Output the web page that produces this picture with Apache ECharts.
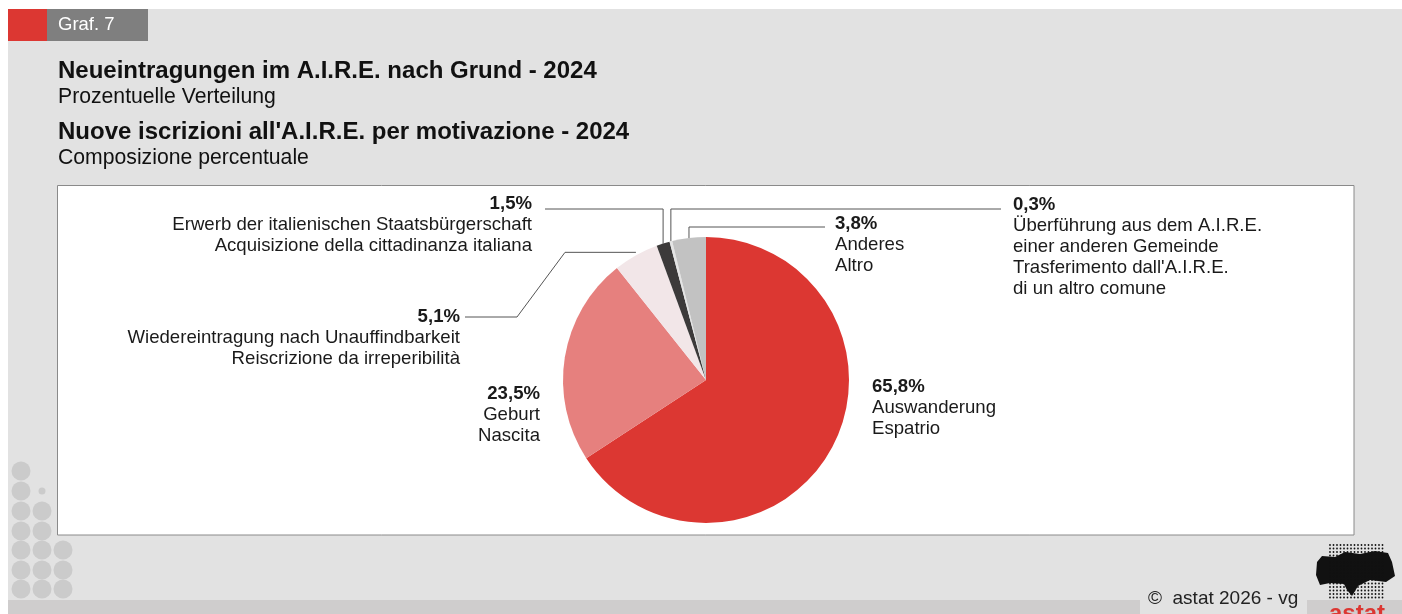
<!DOCTYPE html>
<html>
<head>
<meta charset="utf-8">
<script src="https://cdn.jsdelivr.net/npm/echarts@6/dist/echarts.min.js"></script>
<style>
  html, body { margin: 0; padding: 0; background: #fff; }
  #chart { width: 1402px; height: 614px; }
</style>
</head>
<body>
<div id="chart"></div>
<script>
// values (percent)
const categoriesDe = [
  'Auswanderung',
  'Geburt',
  'Wiedereintragung nach Unauffindbarkeit',
  'Erwerb der italienischen Staatsbürgerschaft',
  'Überführung aus dem A.I.R.E.\neiner anderen Gemeinde',
  'Anderes'
];
const categoriesIt = [
  'Espatrio',
  'Nascita',
  'Reiscrizione da irreperibilità',
  'Acquisizione della cittadinanza italiana',
  "Trasferimento dall'A.I.R.E.\ndi un altro comune",
  'Altro'
];
const shares = [65.8, 23.5, 5.1, 1.5, 0.3, 3.8];

const sliceColors = ['#dc3732', '#e6807e', '#f2e6e8', '#3c3a3a', '#e4e4e4', '#c2c2c2'];
const FONT = "'Liberation Sans', Arial, Helvetica, sans-serif";

// where each label sits and how its leader line runs
const labelPlacement = [
  { x: 872, y: 376, align: 'left' },
  { x: 540, y: 383, align: 'right' },
  { x: 460, y: 306, align: 'right', bendX: [565, 517], lineY: 317, lineEnd: 465 },
  { x: 532, y: 193, align: 'right', lineY: 209, lineEnd: 545 },
  { x: 1013, y: 194, align: 'left', lineY: 209, lineEnd: 1001 },
  { x: 835, y: 213, align: 'left', lineY: 227, lineEnd: 825 }
];

function fmtPct(v) {
  return v.toFixed(1).replace('.', ',') + '%';
}

const chart = echarts.init(document.getElementById('chart'));

// decoration: dots bottom left
const dotCols = [21, 42, 63];
const dotRows = [471, 491, 511, 531, 550, 570, 589];
const dotGraphics = [];
dotRows.forEach(function (y, r) {
  dotCols.forEach(function (x, c) {
    let rad = 0;
    if (c === 0) rad = 9.5;
    else if (c === 1) rad = r === 0 ? 0 : (r === 1 ? 3.5 : 9.5);
    else rad = r >= 4 ? 9.5 : 0;
    if (rad > 0) {
      dotGraphics.push({ type: 'circle', shape: { cx: x, cy: y, r: rad }, style: { fill: '#cbcbcb' } });
    }
  });
});

// logo dots
const logoDots = [];
for (let y = 545; y <= 598; y += 3.5) {
  for (let x = 1330; x <= 1384; x += 3.5) {
    logoDots.push({ type: 'circle', shape: { cx: x, cy: y, r: 0.9 }, style: { fill: '#111' } });
  }
}

const option = {
  animation: false,
  graphic: [
    { type: 'rect', z: -10, shape: { x: 8, y: 9, width: 1394, height: 605 }, style: { fill: '#e2e2e2' } },
    { type: 'rect', z: -9, shape: { x: 8, y: 600, width: 1394, height: 14 }, style: { fill: '#cfcdcd' } },
    { type: 'rect', z: -8, shape: { x: 1140, y: 590, width: 167, height: 24 }, style: { fill: '#e2e2e2' } },
    { type: 'rect', shape: { x: 8, y: 9, width: 39, height: 32 }, style: { fill: '#dc3732' } },
    { type: 'rect', shape: { x: 47, y: 9, width: 101, height: 32 }, style: { fill: '#7f7f7f' } },
    { type: 'text', x: 58, y: 25, style: { text: 'Graf. 7', fill: '#fff', font: '18.5px ' + FONT, verticalAlign: 'middle' } },
    { type: 'text', x: 58, y: 71, style: { text: 'Neueintragungen im A.I.R.E. nach Grund - 2024', fill: '#111', font: 'bold 24px ' + FONT, verticalAlign: 'middle' } },
    { type: 'text', x: 58, y: 97, style: { text: 'Prozentuelle Verteilung', fill: '#111', font: '21.2px ' + FONT, verticalAlign: 'middle' } },
    { type: 'text', x: 58, y: 132, style: { text: "Nuove iscrizioni all'A.I.R.E. per motivazione - 2024", fill: '#111', font: 'bold 24px ' + FONT, verticalAlign: 'middle' } },
    { type: 'text', x: 58, y: 158, style: { text: 'Composizione percentuale', fill: '#111', font: '21.2px ' + FONT, verticalAlign: 'middle' } },
    { type: 'rect', z: -5, shape: { x: 57.5, y: 185.5, width: 1296.5, height: 349.5 }, style: { fill: '#fff', stroke: '#8a8a8a', lineWidth: 1 } },
    { type: 'text', x: 1148, y: 599, style: { text: '©  astat 2026 - vg', fill: '#222', font: '19px ' + FONT, verticalAlign: 'middle' } },
    {
      type: 'polygon',
      shape: {
        points: [[1317, 562], [1322, 556], [1335, 557], [1345, 552], [1360, 554], [1375, 551], [1388, 553], [1392, 562],
          [1395, 576], [1386, 582], [1370, 580], [1358, 586], [1352, 596], [1347, 590], [1344, 584], [1330, 583], [1320, 585], [1316, 575]]
      },
      style: { fill: '#111' }
    },
    { type: 'text', x: 1357, y: 614, style: { text: 'astat', fill: '#dc3732', font: 'bold 24px ' + FONT, align: 'center', verticalAlign: 'middle' } }
  ].concat(dotGraphics, logoDots),
  series: [
    {
      type: 'pie',
      center: [706, 380],
      radius: 143,
      startAngle: 90,
      clockwise: true,
      avoidLabelOverlap: false,
      itemStyle: { borderWidth: 0 },
      label: {
        show: true,
        position: 'outside',
        color: '#1a1a1a',
        fontFamily: FONT,
        fontSize: 18.6,
        lineHeight: 21,
        formatter: function (p) {
          const i = p.dataIndex;
          const side = labelPlacement[i].align === 'right' ? 'R' : 'L';
          const lines = ['{b' + side + '|' + fmtPct(shares[i]) + '}'];
          categoriesDe[i].split('\n').concat(categoriesIt[i].split('\n')).forEach(function (t) {
            lines.push('{n' + side + '|' + t + '}');
          });
          return lines.join('\n');
        },
        rich: {
          bL: { fontWeight: 'bold', fontSize: 18.6, lineHeight: 21, align: 'left', fontFamily: FONT, color: '#1a1a1a' },
          nL: { fontSize: 18.6, lineHeight: 21, align: 'left', fontFamily: FONT, color: '#1a1a1a' },
          bR: { fontWeight: 'bold', fontSize: 18.6, lineHeight: 21, align: 'right', fontFamily: FONT, color: '#1a1a1a' },
          nR: { fontSize: 18.6, lineHeight: 21, align: 'right', fontFamily: FONT, color: '#1a1a1a' }
        }
      },
      labelLine: {
        show: true,
        lineStyle: { color: '#555', width: 1 }
      },
      labelLayout: function (params) {
        const p = labelPlacement[params.dataIndex];
        const res = { x: p.x, y: p.y, align: p.align, verticalAlign: 'top' };
        const pts = params.labelLinePoints;
        if (pts && p.lineY != null) {
          const s = pts[0];
          if (p.bendX) {
            res.labelLinePoints = [[s[0], s[1] - 3], [p.bendX[0], s[1] - 3], [p.bendX[1], p.lineY], [p.lineEnd, p.lineY]];
          } else {
            res.labelLinePoints = [[s[0], s[1]], [s[0], p.lineY], [p.lineEnd, p.lineY]];
          }
        }
        return res;
      },
      data: shares.map(function (v, i) {
        return {
          value: v,
          name: categoriesDe[i],
          itemStyle: { color: sliceColors[i] },
          labelLine: { show: labelPlacement[i].lineY != null }
        };
      })
    }
  ]
};

chart.setOption(option);
</script>
</body>
</html>
